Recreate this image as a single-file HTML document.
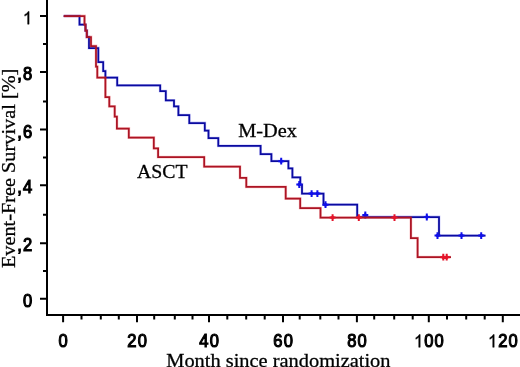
<!DOCTYPE html>
<html><head><meta charset="utf-8"><style>
html,body{margin:0;padding:0;background:#fff;}
svg{display:block;will-change:transform;}
.tk{font-family:"Liberation Sans",sans-serif;font-size:17.8px;fill:#000;stroke:#000;stroke-width:1.15px;}
.tt{font-family:"Liberation Serif",serif;font-size:20.3px;fill:#000;stroke:#000;stroke-width:0.3px;}
</style></head><body>
<svg width="520" height="367" viewBox="0 0 520 367">
<path d="M47.0,0 V315.9 M46.0,314.9 H520" stroke="#000" stroke-width="2" fill="none"/><path d="M40.0,298.7 H47.0M40.0,243.2 H47.0M40.0,185.3 H47.0M40.0,129.5 H47.0M40.0,72.0 H47.0M40.0,16.1 H47.0M43.0,271.0 H47.0M43.0,214.7 H47.0M43.0,157.5 H47.0M43.0,101.5 H47.0M43.0,44.1 H47.0M63.1,314.9 V322.2M137.0,314.9 V322.2M209.0,314.9 V322.2M283.0,314.9 V322.2M356.9,314.9 V322.2M428.8,314.9 V322.2M502.8,314.9 V322.2M81.5,314.9 V319.5M100.8,314.9 V319.5M118.8,314.9 V319.5M154.2,314.9 V319.5M174.8,314.9 V319.5M192.5,314.9 V319.5M227.3,314.9 V319.5M246.2,314.9 V319.5M264.7,314.9 V319.5M299.7,314.9 V319.5M320.3,314.9 V319.5M338.5,314.9 V319.5M374.2,314.9 V319.5M394.2,314.9 V319.5M412.7,314.9 V319.5M447.0,314.9 V319.5M466.2,314.9 V319.5M484.7,314.9 V319.5" stroke="#000" stroke-width="2" fill="none"/><path d="M63.7,16 H79.5 V24.7 H85.5 V30.5 H86.8 V37 H89 V48 H98.3 V62 H103.2 V71 H105.4 V77.5 H117.2 V85.3 H160.2 V91.2 H165.8 V100.3 H174.0 V106.3 H178.4 V115.1 H189.3 V123 H204.8 V130.5 H208.5 V138.1 H218.3 V145.9 H260.6 V154.2 H271.4 V161.2 H288.4 V168.3 H292.4 V177.4 H300.3 V184.5 H302 V193.6 H323.5 V204.7 H357.2 V217.0 H439 V235.6 H485.5" stroke="#2a2af0" stroke-width="2.8" fill="none" stroke-opacity="0.25"/><path d="M63.7,16 H79.5 V24.7 H85.5 V30.5 H86.8 V37 H89 V48 H98.3 V62 H103.2 V71 H105.4 V77.5 H117.2 V85.3 H160.2 V91.2 H165.8 V100.3 H174.0 V106.3 H178.4 V115.1 H189.3 V123 H204.8 V130.5 H208.5 V138.1 H218.3 V145.9 H260.6 V154.2 H271.4 V161.2 H288.4 V168.3 H292.4 V177.4 H300.3 V184.5 H302 V193.6 H323.5 V204.7 H357.2 V217.0 H439 V235.6 H485.5" stroke="#0a0aa0" stroke-width="1.75" fill="none"/><path d="M278.2,161.2 H284.2 M281.2,157.8 V164.6 M296.3,184.5 H302.3 M299.3,181.1 V187.9 M308.6,193.6 H314.6 M311.6,190.2 V197.0 M314.4,193.6 H320.4 M317.4,190.2 V197.0 M322.5,204.7 H328.5 M325.5,201.3 V208.1 M362.3,215.0 H368.3 M365.3,211.6 V218.4 M423.8,217.0 H429.8 M426.8,213.6 V220.4 M434.5,235.6 H440.5 M437.5,232.2 V239.0 M458.5,235.6 H464.5 M461.5,232.2 V239.0 M478.2,235.6 H484.2 M481.2,232.2 V239.0 " stroke="#1010e8" stroke-width="2" fill="none"/><path d="M278.6,161.2 L281.2,159.0 L283.8,161.2 L281.2,163.4Z M296.7,184.5 L299.3,182.3 L301.9,184.5 L299.3,186.7Z M309.0,193.6 L311.6,191.4 L314.2,193.6 L311.6,195.8Z M314.8,193.6 L317.4,191.4 L320.0,193.6 L317.4,195.8Z M322.9,204.7 L325.5,202.5 L328.1,204.7 L325.5,206.9Z M362.7,215.0 L365.3,212.8 L367.9,215.0 L365.3,217.2Z M424.2,217.0 L426.8,214.8 L429.4,217.0 L426.8,219.2Z M434.9,235.6 L437.5,233.4 L440.1,235.6 L437.5,237.8Z M458.9,235.6 L461.5,233.4 L464.1,235.6 L461.5,237.8Z M478.6,235.6 L481.2,233.4 L483.8,235.6 L481.2,237.8Z " fill="#1010e8"/><path d="M63.7,16 H84.5 V24.7 H85.5 V30.5 H86.8 V37 H91 V46 H96 V66.7 H97.3 V77.5 H105.4 V97.1 H109.3 V106.3 H114.7 V116.7 H116.9 V128.5 H128.8 V137.5 H153.8 V148.4 H158.1 V157.1 H204.2 V166.6 H240 V177.8 H246.3 V186.9 H285.7 V198.5 H300.2 V208.1 H320.5 V217.6 H410.9 V238.2 H417.6 V257.2 H451" stroke="#f02028" stroke-width="2.8" fill="none" stroke-opacity="0.25"/><path d="M63.7,16 H84.5 V24.7 H85.5 V30.5 H86.8 V37 H91 V46 H96 V66.7 H97.3 V77.5 H105.4 V97.1 H109.3 V106.3 H114.7 V116.7 H116.9 V128.5 H128.8 V137.5 H153.8 V148.4 H158.1 V157.1 H204.2 V166.6 H240 V177.8 H246.3 V186.9 H285.7 V198.5 H300.2 V208.1 H320.5 V217.6 H410.9 V238.2 H417.6 V257.2 H451" stroke="#ac1424" stroke-width="1.75" fill="none"/><path d="M329.6,217.6 H335.6 M332.6,214.2 V221.0 M355.8,217.6 H361.8 M358.8,214.2 V221.0 M391.5,217.6 H397.5 M394.5,214.2 V221.0 M440.3,257.2 H446.3 M443.3,253.8 V260.6 M443.7,257.2 H449.7 M446.7,253.8 V260.6 " stroke="#e4142a" stroke-width="2" fill="none"/><path d="M330.0,217.6 L332.6,215.4 L335.2,217.6 L332.6,219.8Z M356.2,217.6 L358.8,215.4 L361.4,217.6 L358.8,219.8Z M391.9,217.6 L394.5,215.4 L397.1,217.6 L394.5,219.8Z M440.7,257.2 L443.3,255.0 L445.9,257.2 L443.3,259.4Z M444.1,257.2 L446.7,255.0 L449.3,257.2 L446.7,259.4Z " fill="#e4142a"/><text transform="translate(27.60,306.80) scale(0.93,1)" text-anchor="middle" class="tk">0</text><text transform="translate(19.60,251.30) scale(0.93,1)" text-anchor="middle" class="tk">,</text><text transform="translate(27.50,251.30) scale(0.93,1)" text-anchor="middle" class="tk">2</text><text transform="translate(19.60,193.40) scale(0.93,1)" text-anchor="middle" class="tk">,</text><text transform="translate(27.50,193.40) scale(0.93,1)" text-anchor="middle" class="tk">4</text><text transform="translate(19.60,137.60) scale(0.93,1)" text-anchor="middle" class="tk">,</text><text transform="translate(27.50,137.60) scale(0.93,1)" text-anchor="middle" class="tk">6</text><text transform="translate(19.60,80.10) scale(0.93,1)" text-anchor="middle" class="tk">,</text><text transform="translate(27.50,80.10) scale(0.93,1)" text-anchor="middle" class="tk">8</text><text transform="translate(63.20,347.30) scale(0.93,1)" text-anchor="middle" class="tk">0</text><text transform="translate(131.95,347.30) scale(0.93,1)" text-anchor="middle" class="tk">2</text><text transform="translate(142.25,347.30) scale(0.93,1)" text-anchor="middle" class="tk">0</text><text transform="translate(203.95,347.30) scale(0.93,1)" text-anchor="middle" class="tk">4</text><text transform="translate(214.25,347.30) scale(0.93,1)" text-anchor="middle" class="tk">0</text><text transform="translate(277.95,347.30) scale(0.93,1)" text-anchor="middle" class="tk">6</text><text transform="translate(288.25,347.30) scale(0.93,1)" text-anchor="middle" class="tk">0</text><text transform="translate(351.85,347.30) scale(0.93,1)" text-anchor="middle" class="tk">8</text><text transform="translate(362.15,347.30) scale(0.93,1)" text-anchor="middle" class="tk">0</text><text transform="translate(428.90,347.30) scale(0.93,1)" text-anchor="middle" class="tk">0</text><text transform="translate(439.20,347.30) scale(0.93,1)" text-anchor="middle" class="tk">0</text><text transform="translate(502.90,347.30) scale(0.93,1)" text-anchor="middle" class="tk">2</text><text transform="translate(513.20,347.30) scale(0.93,1)" text-anchor="middle" class="tk">0</text><g fill="#000" stroke="#000" stroke-width="0.45"><g transform="translate(22.92,0) scale(0.93,1)"><path d="M6.63,24.20 L5.07,24.20 L5.07,14.23 C4.50,14.77 3.58,15.31 2.66,15.85 C2.66,15.85 2.26,16.03 1.94,16.12 L1.94,14.60 C3.23,14.00 4.21,13.13 4.87,12.38 C5.21,11.99 5.48,11.68 5.59,11.44 L6.63,11.44 Z"/></g><g transform="translate(414.02,0) scale(0.93,1)"><path d="M6.63,347.30 L5.07,347.30 L5.07,337.33 C4.50,337.87 3.58,338.41 2.66,338.95 C2.66,338.95 2.26,339.13 1.94,339.22 L1.94,337.70 C3.23,337.10 4.21,336.23 4.87,335.48 C5.21,335.09 5.48,334.78 5.59,334.54 L6.63,334.54 Z"/></g><g transform="translate(488.02,0) scale(0.93,1)"><path d="M6.63,347.30 L5.07,347.30 L5.07,337.33 C4.50,337.87 3.58,338.41 2.66,338.95 C2.66,338.95 2.26,339.13 1.94,339.22 L1.94,337.70 C3.23,337.10 4.21,336.23 4.87,335.48 C5.21,335.09 5.48,334.78 5.59,334.54 L6.63,334.54 Z"/></g></g><text transform="translate(278.4,366.7) scale(1.005,0.93)" text-anchor="middle" class="tt">Month since randomization</text><text transform="translate(14.6,168.4) rotate(-90) scale(1.0,0.97)" text-anchor="middle" class="tt">Event-Free Survival [%]</text><text transform="translate(238.3,137) scale(1.0,0.93)" class="tt">M-Dex</text><text transform="translate(136.9,177.6) scale(0.975,0.93)" class="tt">ASCT</text>
</svg>
</body></html>
